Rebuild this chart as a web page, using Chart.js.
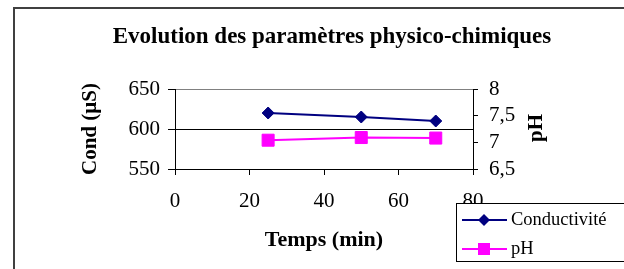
<!DOCTYPE html>
<html>
<head>
<meta charset="utf-8">
<script src="https://cdn.jsdelivr.net/npm/chart.js@4.4.1/dist/chart.umd.min.js"></script>
<style>
  html, body { margin: 0; padding: 0; background: #fff; overflow: hidden; }
  #wrap { position: relative; width: 624px; height: 269px; }
</style>
</head>
<body>
<div id="wrap"><canvas id="chart" width="624" height="269"></canvas></div>
<script>
// data
const temps = [25, 50, 70];
const conductivite = [620, 615, 610];
const ph = [7.04, 7.09, 7.08];

// axis ticks
const xTicks = [0, 20, 40, 60, 80];
const condTicks = [550, 600, 650];
const phTickValues = [6.5, 7, 7.5, 8];
const phTickLabels = ['6,5', '7', '7,5', '8'];

const serif = "'Liberation Serif', 'Times New Roman', serif";
Chart.defaults.font.family = serif;
Chart.defaults.color = '#000';

const NAVY = '#000080';
const MAGENTA = '#ff00ff';

// frame, right-hand axis title and legend box (Excel style)
const decor = {
    id: 'decor',
    beforeDraw(chart) {
        const ctx = chart.ctx;
        ctx.save();
        ctx.strokeStyle = '#404040';
        ctx.lineWidth = 2;
        ctx.strokeRect(14, 8, 700, 400);
        ctx.restore();
    },
    afterDraw(chart) {
        const ctx = chart.ctx;
        ctx.save();

        // pH title, read bottom to top
        ctx.translate(537, 128);
        ctx.rotate(-Math.PI / 2);
        ctx.font = 'bold 21px ' + serif;
        ctx.fillStyle = '#000';
        ctx.textAlign = 'center';
        ctx.textBaseline = 'middle';
        ctx.fillText('pH', 0, 0);
        ctx.setTransform(1, 0, 0, 1, 0, 0);

        // legend
        const lx = 456, ly = 203, lh = 58;
        ctx.fillStyle = '#fff';
        ctx.fillRect(lx, ly, 200, lh);
        ctx.strokeStyle = '#000';
        ctx.lineWidth = 1;
        ctx.strokeRect(lx + 0.5, ly + 0.5, 200, lh);

        chart.data.datasets.forEach((ds, i) => {
            const y = ly + 17 + i * 29;
            ctx.strokeStyle = ds.borderColor;
            ctx.lineWidth = 2;
            ctx.beginPath();
            ctx.moveTo(lx + 6, y);
            ctx.lineTo(lx + 51, y);
            ctx.stroke();
            ctx.fillStyle = ds.backgroundColor;
            const cx = lx + 28;
            ctx.beginPath();
            if (ds.pointStyle === 'rectRot') {
                ctx.moveTo(cx, y - 6);
                ctx.lineTo(cx + 6, y);
                ctx.lineTo(cx, y + 6);
                ctx.lineTo(cx - 6, y);
                ctx.closePath();
            } else {
                ctx.rect(cx - 6, y - 6, 12, 12);
            }
            ctx.fill();
            ctx.fillStyle = '#000';
            ctx.font = '18.5px ' + serif;
            ctx.textAlign = 'left';
            ctx.textBaseline = 'middle';
            ctx.fillText(ds.label, lx + 55, y);
        });
        ctx.restore();
    }
};

new Chart(document.getElementById('chart'), {
    type: 'line',
    data: {
        labels: temps,
        datasets: [{
            label: 'Conductivité',
            data: temps.map((t, i) => ({ x: t, y: conductivite[i] })),
            yAxisID: 'y',
            borderColor: NAVY,
            backgroundColor: NAVY,
            borderWidth: 2,
            pointStyle: 'rectRot',
            pointRadius: 6,
            pointBorderWidth: 1,
            tension: 0
        }, {
            label: 'pH',
            data: temps.map((t, i) => ({ x: t, y: ph[i] })),
            yAxisID: 'y2',
            borderColor: MAGENTA,
            backgroundColor: MAGENTA,
            borderWidth: 2,
            pointStyle: 'rect',
            pointRadius: 8.5,
            pointBorderWidth: 1,
            tension: 0
        }]
    },
    options: {
        responsive: false,
        animation: false,
        devicePixelRatio: 1,
        layout: { padding: { left: 40, right: 0, top: 0, bottom: 0 } },
        plugins: {
            legend: { display: false },
            tooltip: { enabled: false },
            title: {
                display: true,
                text: 'Evolution des paramètres physico-chimiques',
                color: '#000',
                font: { size: 23, weight: 'bold' },
                padding: { top: 23, bottom: 38.4 }
            }
        },
        scales: {
            x: {
                type: 'linear',
                min: 0,
                max: 80,
                afterBuildTicks: s => { s.ticks = xTicks.map(v => ({ value: v })); },
                afterFit: s => { s.height = 100; },
                grid: { drawOnChartArea: false, drawTicks: true, tickLength: 6, color: '#000' },
                border: { color: '#000', width: 1 },
                ticks: { color: '#000', font: { size: 21 }, padding: 14, maxRotation: 0, autoSkip: false },
                title: {
                    display: true,
                    text: 'Temps (min)',
                    color: '#000',
                    font: { size: 22, weight: 'bold' },
                    padding: { top: 0, bottom: 15 }
                }
            },
            y: {
                position: 'left',
                min: 550,
                max: 650,
                afterBuildTicks: s => { s.ticks = condTicks.map(v => ({ value: v })); },
                afterFit: s => { s.width = 135; },
                grid: {
                    color: c => (c.tick && c.tick.value === 650 ? '#808080' : '#000'),
                    tickColor: '#000',
                    tickLength: 7
                },
                border: { color: '#000', width: 1 },
                ticks: { color: '#000', font: { size: 21 }, padding: 8, autoSkip: false },
                title: {
                    display: true,
                    text: 'Cond (µS)',
                    color: '#000',
                    font: { size: 21, weight: 'bold' },
                    padding: { top: 38, bottom: 0 }
                }
            },
            y2: {
                position: 'right',
                min: 6.5,
                max: 8,
                afterBuildTicks: s => { s.ticks = phTickValues.map(v => ({ value: v })); },
                afterFit: s => { s.width = 151; },
                grid: { drawOnChartArea: false, tickLength: 5, color: '#000' },
                border: { color: '#000', width: 1 },
                ticks: {
                    color: '#000',
                    font: { size: 21 },
                    padding: 11,
                    autoSkip: false,
                    callback: (v, i) => phTickLabels[i]
                }
            }
        }
    },
    plugins: [decor]
});
</script>
</body>
</html>
